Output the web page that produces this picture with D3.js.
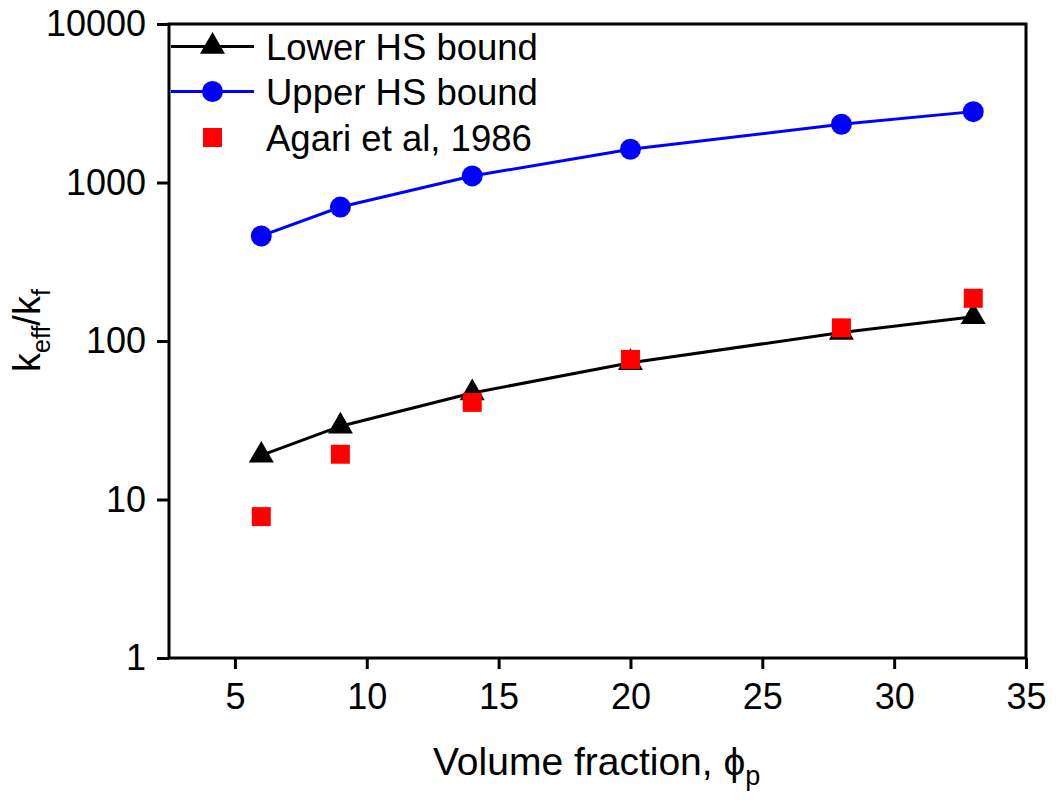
<!DOCTYPE html>
<html>
<head>
<meta charset="utf-8">
<script src="https://cdn.jsdelivr.net/npm/d3@7"></script>
<style>
  html, body { margin: 0; padding: 0; background: #fff; }
  svg { display: block; font-family: Arial, "Liberation Sans", sans-serif; }
</style>
</head>
<body>
<svg id="chart" width="1056" height="801"></svg>
<script>
// ---- data ----
const volumeFraction = [6, 9, 14, 20, 28, 33];
const lowerHS = [19, 29, 47, 73, 113, 142];
const upperHS = [460, 700, 1100, 1620, 2330, 2800];
const agari = [7.8, 19.3, 41, 76.5, 121, 186];
const xTicks = [5, 10, 15, 20, 25, 30, 35];
const yTicks = [1, 10, 100, 1000, 10000];
const seriesNames = ["Lower HS bound", "Upper HS bound", "Agari et al, 1986"];

(function () {
// ---- layout ----
const svg = d3.select("#chart");
const pLeft = 169, pRight = 1026, pTop = 24, pBottom = 658;
const x = d3.scaleLinear().domain([2.5, 35]).range([pLeft, pRight]);
const y = d3.scaleLog().domain([1, 10000]).range([pBottom, pTop]);

const font = 'Arial, "Liberation Sans", sans-serif';

// frame
svg.append("rect")
  .attr("x", pLeft).attr("y", pTop)
  .attr("width", pRight - pLeft).attr("height", pBottom - pTop)
  .attr("fill", "none").attr("stroke", "#000").attr("stroke-width", 3);

// x axis
const xAxis = svg.append("g")
  .attr("transform", `translate(0,${pBottom})`)
  .call(d3.axisBottom(x).tickValues(xTicks).tickSize(11).tickPadding(14).tickSizeOuter(0).tickFormat(d3.format("d")));
xAxis.select(".domain").remove();
xAxis.selectAll(".tick line").attr("stroke", "#000").attr("stroke-width", 3);
xAxis.selectAll(".tick text").attr("font-size", 36).attr("font-family", font).attr("fill", "#000");

// y axis
const yAxis = svg.append("g")
  .attr("transform", `translate(${pLeft},0)`)
  .call(d3.axisLeft(y).tickValues(yTicks).tickSize(12).tickPadding(11).tickSizeOuter(0).tickFormat(d3.format("d")));
yAxis.select(".domain").remove();
yAxis.selectAll(".tick line").attr("stroke", "#000").attr("stroke-width", 3);
yAxis.selectAll(".tick text").attr("font-size", 36).attr("font-family", font).attr("fill", "#000");

// axis titles
const xt = svg.append("text")
  .attr("x", 433).attr("y", 775)
  .attr("text-anchor", "start").attr("font-size", 39).attr("font-family", font);
xt.append("tspan").text("Volume fraction, ϕ");
xt.append("tspan").attr("font-size", 27).attr("dy", 10).text("p");

const yt = svg.append("text")
  .attr("transform", "translate(40,372) rotate(-90)")
  .attr("text-anchor", "start").attr("font-size", 38).attr("font-family", font);
yt.append("tspan").text("k");
yt.append("tspan").attr("font-size", 25).attr("dy", 10).text("eff");
yt.append("tspan").attr("dy", -10).text("/k");
yt.append("tspan").attr("font-size", 25).attr("dy", 10).text("f");

// series
const lowerData = volumeFraction.map((v, i) => [v, lowerHS[i]]);
const upperData = volumeFraction.map((v, i) => [v, upperHS[i]]);
const agariData = volumeFraction.map((v, i) => [v, agari[i]]);

const line = d3.line().x(d => x(d[0])).y(d => y(d[1]));

svg.append("path").datum(upperData).attr("d", line)
  .attr("fill", "none").attr("stroke", "#0000ff").attr("stroke-width", 3);
svg.append("path").datum(lowerData).attr("d", line)
  .attr("fill", "none").attr("stroke", "#000").attr("stroke-width", 3);

const triSize = 25 * 25 * Math.sqrt(3) / 4;
const sqSize = 19 * 19;
const triangle = d3.symbol().type(d3.symbolTriangle).size(triSize);
const square = d3.symbol().type(d3.symbolSquare).size(sqSize);

svg.append("g").selectAll("path").data(lowerData).join("path")
  .attr("d", triangle)
  .attr("transform", d => `translate(${x(d[0])},${y(d[1])})`)
  .attr("fill", "#000");

svg.append("g").selectAll("circle").data(upperData).join("circle")
  .attr("cx", d => x(d[0])).attr("cy", d => y(d[1])).attr("r", 10.5)
  .attr("fill", "#0000ff");

svg.append("g").selectAll("path").data(agariData).join("path")
  .attr("d", square)
  .attr("transform", d => `translate(${x(d[0])},${y(d[1])})`)
  .attr("fill", "#ff0000");

// legend
const legX0 = 171, legX1 = 254, legMid = 212.5, legText = 266;
const rows = [46.5, 91.5, 137.5];
const lg = svg.append("g");
lg.append("line").attr("x1", legX0).attr("x2", legX1).attr("y1", rows[0]).attr("y2", rows[0])
  .attr("stroke", "#000").attr("stroke-width", 3);
lg.append("path").attr("d", triangle).attr("transform", `translate(${legMid},${rows[0]})`).attr("fill", "#000");
lg.append("line").attr("x1", legX0).attr("x2", legX1).attr("y1", rows[1]).attr("y2", rows[1])
  .attr("stroke", "#0000ff").attr("stroke-width", 3);
lg.append("circle").attr("cx", legMid).attr("cy", rows[1]).attr("r", 10.5).attr("fill", "#0000ff");
lg.append("path").attr("d", square).attr("transform", `translate(${legMid},${rows[2]})`).attr("fill", "#ff0000");

lg.selectAll("text").data(seriesNames).join("text")
  .attr("x", legText).attr("y", (d, i) => rows[i] + 13)
  .attr("font-size", 36.5).attr("font-family", font).attr("fill", "#000")
  .text(d => d);
})();
</script>
</body>
</html>
